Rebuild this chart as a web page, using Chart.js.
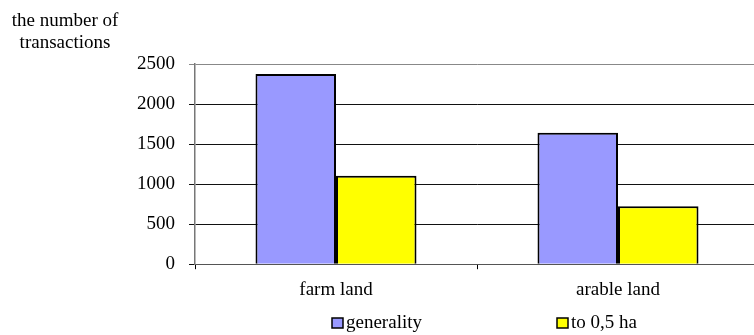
<!DOCTYPE html>
<html><head><meta charset="utf-8">
<script src="https://cdn.jsdelivr.net/npm/chart.js@4.4.1/dist/chart.umd.min.js"></script>
<style>html,body{margin:0;padding:0;background:#fff;overflow:hidden;} #wrap{position:relative;width:754px;height:335px;overflow:hidden;}</style>
</head><body><div id="wrap"><canvas id="c" width="760" height="335"></canvas></div>
<script>
const categories = ['farm land', 'arable land'];
const generality = [2375, 1640];
const upToHalfHa = [1105, 725];
const seriesNames = ['generality', 'to 0,5 ha'];
const yTicks = [0, 500, 1000, 1500, 2000, 2500];
const axisTitle = ['the number of', 'transactions'];

const FONT = '"Liberation Serif", "Times New Roman", serif';
const seriesColors = ['#9999FF', '#FFFF00'];
const legendX = [332, 557];

const customText = {
  id: 'customText',
  afterDraw(chart) {
    const ctx = chart.ctx;
    ctx.save();
    ctx.fillStyle = '#000';
    ctx.font = '19px ' + FONT;
    ctx.textAlign = 'center';
    ctx.textBaseline = 'middle';
    axisTitle.forEach((t, i) => ctx.fillText(t, 65, 21 + i * 22));
    ctx.textAlign = 'left';
    chart.data.datasets.forEach((ds, i) => {
      const x = legendX[i];
      ctx.fillStyle = ds.backgroundColor;
      ctx.fillRect(x, 318, 11, 10);
      ctx.strokeStyle = '#000';
      ctx.lineWidth = 1.5;
      ctx.strokeRect(x, 318, 11, 10);
      ctx.fillStyle = '#000';
      ctx.fillText(ds.label, x + 14, 323);
    });
    ctx.restore();
  }
};

new Chart(document.getElementById('c'), {
  type: 'bar',
  data: {
    labels: categories,
    datasets: [
      { label: seriesNames[0], data: generality, backgroundColor: seriesColors[0], borderColor: '#000', borderWidth: 2 },
      { label: seriesNames[1], data: upToHalfHa, backgroundColor: seriesColors[1], borderColor: '#000', borderWidth: 2 }
    ]
  },
  plugins: [customText],
  options: {
    responsive: false,
    animation: false,
    devicePixelRatio: 1,
    layout: { padding: { left: 123, right: 1, top: 64, bottom: 25 } },
    datasets: { bar: { categoryPercentage: 0.571, barPercentage: 1 } },
    plugins: { legend: { display: false }, tooltip: { enabled: false }, title: { display: false } },
    scales: {
      x: {
        grid: { drawOnChartArea: false, drawTicks: true, tickLength: 5, color: '#000' },
        border: { color: '#555', width: 1 },
        ticks: { color: '#000', padding: 9, font: { family: FONT, size: 19 } }
      },
      y: {
        min: 0, max: 2500,
        afterBuildTicks: s => { s.ticks = yTicks.map(v => ({ value: v })); },
        grid: { color: c => (c.tick && c.tick.value === 2500) ? '#888' : '#111', lineWidth: 1, tickLength: 6 },
        border: { color: '#777', width: 1.5 },
        ticks: { color: '#000', padding: 14, font: { family: FONT, size: 19 }, callback: v => String(v) }
      }
    }
  }
});
</script></body></html>
